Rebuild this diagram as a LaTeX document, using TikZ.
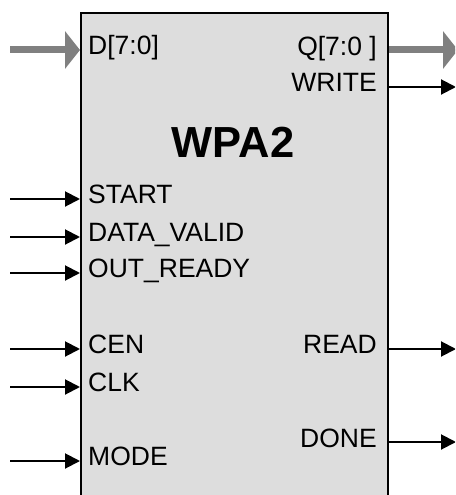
\documentclass[tikz,border=0pt]{standalone}
\usepackage{fontspec}
\setmainfont{Liberation Sans}
\usetikzlibrary{arrows.meta}
\definecolor{boxfill}{HTML}{DDDDDD}
\definecolor{busgray}{HTML}{808080}
\begin{document}
\begin{tikzpicture}[x=1pt,y=-1pt,
  lbl/.style={inner sep=0pt,font=\fontsize{26.5}{30}\selectfont},
  lleft/.style={lbl,anchor=base west},
  lright/.style={lbl,anchor=base east},
  sig/.style={line width=2pt,-{Triangle[length=15pt,width=15pt]}},
  bus/.style={line width=7pt,draw=busgray,-{Triangle[length=15pt,width=37pt,fill=busgray]}}]
\useasboundingbox (0,0) rectangle (455,495);
\clip (0,0) rectangle (455,495);
\node[draw,line width=2pt,fill=boxfill,minimum width=307pt,minimum height=510pt,anchor=north west,inner sep=0pt] (blk) at (80,12) {};
\node[inner sep=0pt,anchor=base,font=\fontsize{43.5}{48}\selectfont\bfseries] (title) at (233,157) {WPA2};
% labels
\node[lleft] (lD) at (88,55) {D[7:0]};
\node[lright] (lQ) at (377,56) {Q[7:0 ]};
\node[lright] (lW) at (377,92) {WRITE};
\node[lleft] (lS) at (88,203) {START};
\node[lleft] (lDV) at (88,241) {DATA\_VALID};
\node[lleft] (lOR) at (88,277) {OUT\_READY};
\node[lleft] (lCEN) at (88,353) {CEN};
\node[lleft] (lCLK) at (88,391) {CLK};
\node[lright] (lR) at (377,353) {READ};
\node[lright] (lDN) at (377,447) {DONE};
\node[lleft] (lM) at (88,465) {MODE};
% free ends
\coordinate (iD) at (10,50);
\coordinate (oQ) at (458,50);
\coordinate (oW) at (456,87);
\coordinate (iS) at (10,199);
\coordinate (iDV) at (10,237);
\coordinate (iOR) at (10,273);
\coordinate (iCEN) at (10,349);
\coordinate (iCLK) at (10,387);
\coordinate (oR) at (456,349);
\coordinate (oDN) at (456,442);
\coordinate (iM) at (10,461);
% connectors
\draw[bus] (iD) -- (blk.west |- iD);
\draw[bus] (blk.east |- oQ) -- (oQ);
\draw[sig] (blk.east |- oW) -- (oW);
\draw[sig] (iS) -- (blk.west |- iS);
\draw[sig] (iDV) -- (blk.west |- iDV);
\draw[sig] (iOR) -- (blk.west |- iOR);
\draw[sig] (iCEN) -- (blk.west |- iCEN);
\draw[sig] (iCLK) -- (blk.west |- iCLK);
\draw[sig] (blk.east |- oR) -- (oR);
\draw[sig] (blk.east |- oDN) -- (oDN);
\draw[sig] (iM) -- (blk.west |- iM);
\end{tikzpicture}
\end{document}
